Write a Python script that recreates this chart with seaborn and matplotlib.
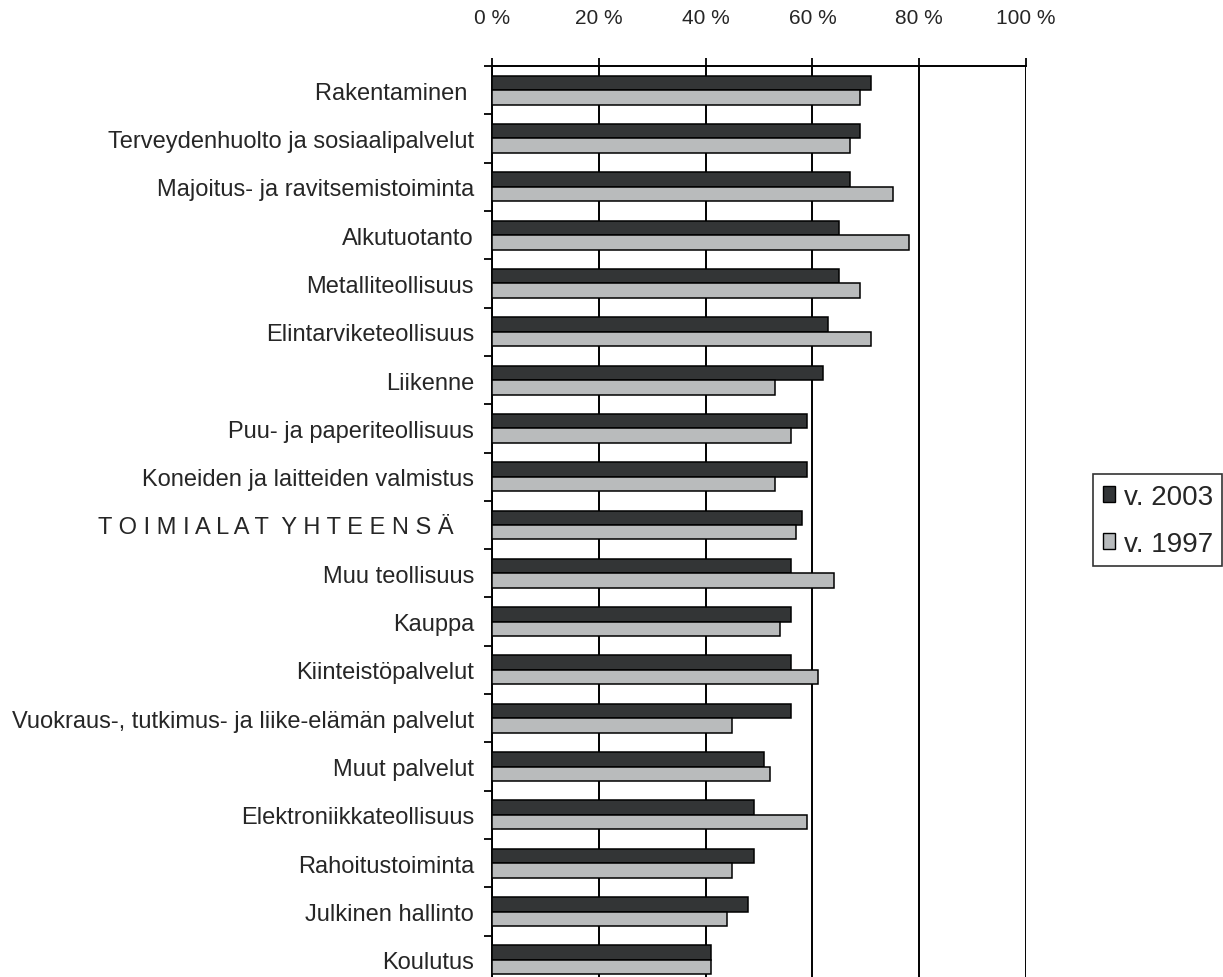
import matplotlib
matplotlib.use("Agg")
import matplotlib.pyplot as plt
from matplotlib.ticker import FixedLocator, PercentFormatter
import seaborn as sns
import pandas as pd

# Toimialat ja osuudet (%) vuosina 2003 ja 1997
categories = [
    "Rakentaminen ",
    "Terveydenhuolto ja sosiaalipalvelut",
    "Majoitus- ja ravitsemistoiminta",
    "Alkutuotanto",
    "Metalliteollisuus",
    "Elintarviketeollisuus",
    "Liikenne",
    "Puu- ja paperiteollisuus",
    "Koneiden ja laitteiden valmistus",
    "T O I M I A L A T  Y H T E E N S Ä   ",
    "Muu teollisuus",
    "Kauppa",
    "Kiinteistöpalvelut",
    "Vuokraus-, tutkimus- ja liike-elämän palvelut",
    "Muut palvelut",
    "Elektroniikkateollisuus",
    "Rahoitustoiminta",
    "Julkinen hallinto",
    "Koulutus",
]
v2003 = [71, 69, 67, 65, 65, 63, 62, 59, 59, 58, 56, 56, 56, 56, 51, 49, 49, 48, 41]
v1997 = [69, 67, 75, 78, 69, 71, 53, 56, 53, 57, 64, 54, 61, 45, 52, 59, 45, 44, 41]
series = ["v. 2003", "v. 1997"]
colors = ["#323537", "#b8bbbd"]
x_ticks = [0, 20, 40, 60, 80, 100]

df = pd.DataFrame({
    "Toimiala": categories * 2,
    "Osuus": v2003 + v1997,
    "Vuosi": [series[0]] * len(categories) + [series[1]] * len(categories),
})

sns.set_style("white")
plt.rcParams["font.family"] = ["Liberation Sans", "DejaVu Sans"]

W, H = 1223, 978
fig = plt.figure(figsize=(W / 100, H / 100), dpi=100)
# plot area runs from the top axis line down past the lower edge of the figure
ax = fig.add_axes([492 / W, -7 / H, 534 / W, 918 / H])

sns.barplot(
    data=df, x="Osuus", y="Toimiala", hue="Vuosi", orient="h",
    palette=colors, hue_order=series, order=categories,
    width=0.6, gap=0, edgecolor="black", linewidth=1.1,
    ax=ax, legend=False, zorder=3,
)

n = len(categories)
ax.set_ylim(n - 0.5, -0.5)
ax.set_xlim(0, 100)

# Percent axis across the top
ax.xaxis.set_major_locator(FixedLocator(x_ticks))
ax.xaxis.set_major_formatter(PercentFormatter(decimals=0, symbol=" %"))
ax.xaxis.tick_top()
ax.tick_params(axis="x", which="major", direction="out", length=6, width=1.3,
               color="black", pad=22, labelsize=15)
ax.xaxis.grid(True, color="black", linewidth=1.4, zorder=0)
ax.set_axisbelow(True)

# Category labels centred, tick marks between categories
ax.yaxis.set_minor_locator(FixedLocator([i - 0.5 for i in range(n + 1)]))
ax.tick_params(axis="y", which="major", length=0, pad=13, labelsize=17)
ax.tick_params(axis="y", which="minor", left=True, direction="out", length=6,
               width=1.3, color="black")
ax.set_xlabel("")
ax.set_ylabel("")

for side in ["right", "bottom"]:
    ax.spines[side].set_visible(False)
for side in ["left", "top"]:
    ax.spines[side].set_color("black")
    ax.spines[side].set_linewidth(1.4)

handles = [plt.Rectangle((0, 0), 1, 1, facecolor=c, edgecolor="black", linewidth=1.0)
           for c in colors]
leg = fig.legend(
    handles, series, loc="upper left", bbox_to_anchor=(1093 / W, 1 - 475 / H),
    frameon=True, fancybox=False, fontsize=20, handlelength=0.45, handleheight=0.5,
    handletextpad=0.3, labelspacing=0.75, borderpad=0.35, borderaxespad=0,
)
leg.get_frame().set_edgecolor("black")
leg.get_frame().set_linewidth(1.2)

fig.savefig("out.png", dpi=100)
